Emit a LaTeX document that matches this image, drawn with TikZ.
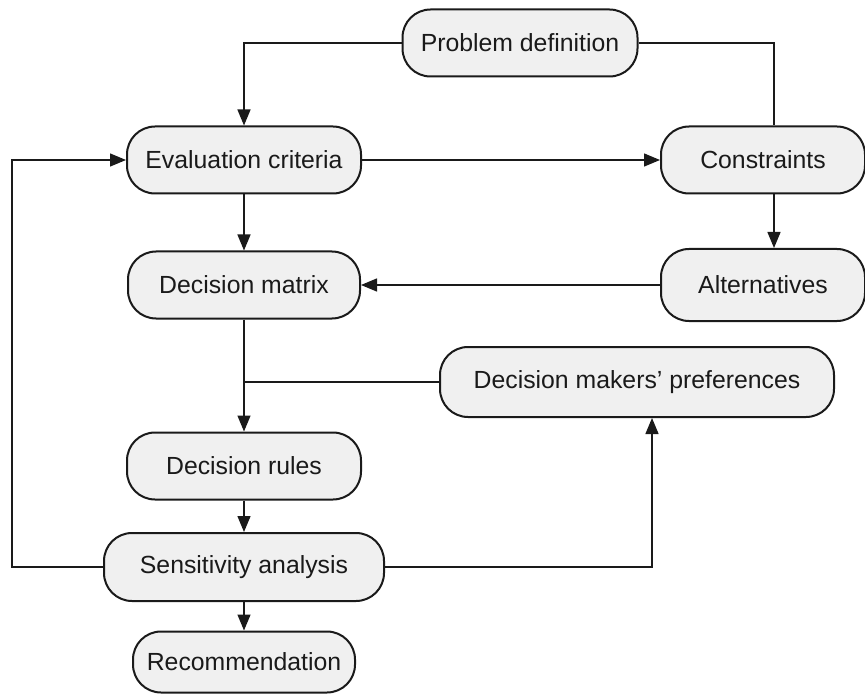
\documentclass[tikz,border=0pt]{standalone}
\usepackage{fontspec}
\setmainfont{Liberation Sans}
\usetikzlibrary{arrows.meta}
\definecolor{boxfill}{HTML}{F0F0F0}
\definecolor{ink}{HTML}{1A1A1A}
\begin{document}
\begin{tikzpicture}[x=1pt,y=-1pt,
  stage/.style={draw=ink, line width=2pt, fill=boxfill, rounded corners=28pt,
    minimum height=67pt, inner sep=0pt, text=ink,
    font=\fontsize{24.8}{30}\selectfont},
  link/.style={draw=ink, line width=1.4pt},
  arr/.style={link, -{Triangle[length=16pt,width=13pt]}}]
\useasboundingbox (0,0) rectangle (865,695);

% process stages
\node[stage, minimum width=235pt] (pd)   at (520,43)  {Problem definition};
\node[stage, minimum width=234pt] (ec)   at (244,160) {Evaluation criteria};
\node[stage, minimum width=204pt] (cons) at (763,160) {Constraints};
\node[stage, minimum width=232pt] (dm)   at (244,285) {Decision matrix};
\node[stage, minimum width=204pt, minimum height=72pt] (alt) at (763,285) {Alternatives};
\node[stage, minimum width=394pt, minimum height=70pt] (dmp) at (637,382) {Decision makers’ preferences};
\node[stage, minimum width=234pt] (dr)   at (244,466) {Decision rules};
\node[stage, minimum width=280pt, minimum height=68pt] (sa) at (244,567) {Sensitivity analysis};
\node[stage, minimum width=222pt, minimum height=61pt] (rec) at (244,662) {Recommendation};

% routing guides
\coordinate (cx) at (774,0);
\coordinate (lx) at (12,0);
\coordinate (px) at (652,0);

% connectors
\draw[arr] (pd.west) -| (ec.north);
\draw[link] (pd.east) -| (cons.north -| cx);
\draw[arr] (ec.east) -- (cons.west);
\draw[arr] (cons.south -| cx) -- (alt.north -| cx);
\draw[arr] (alt.west) -- (dm.east);
\draw[arr] (ec.south) -- (dm.north);
\draw[arr] (dm.south) -- (dr.north);
\draw[link] (dmp.west) -- (dmp.west -| dm.south);
\draw[arr] (dr.south) -- (sa.north);
\draw[arr] (sa.south) -- (rec.north);
\draw[arr] (sa.west) -- (sa.west -| lx) |- (ec.west);
\draw[arr] (sa.east) -| (dmp.south -| px);
\end{tikzpicture}
\end{document}
